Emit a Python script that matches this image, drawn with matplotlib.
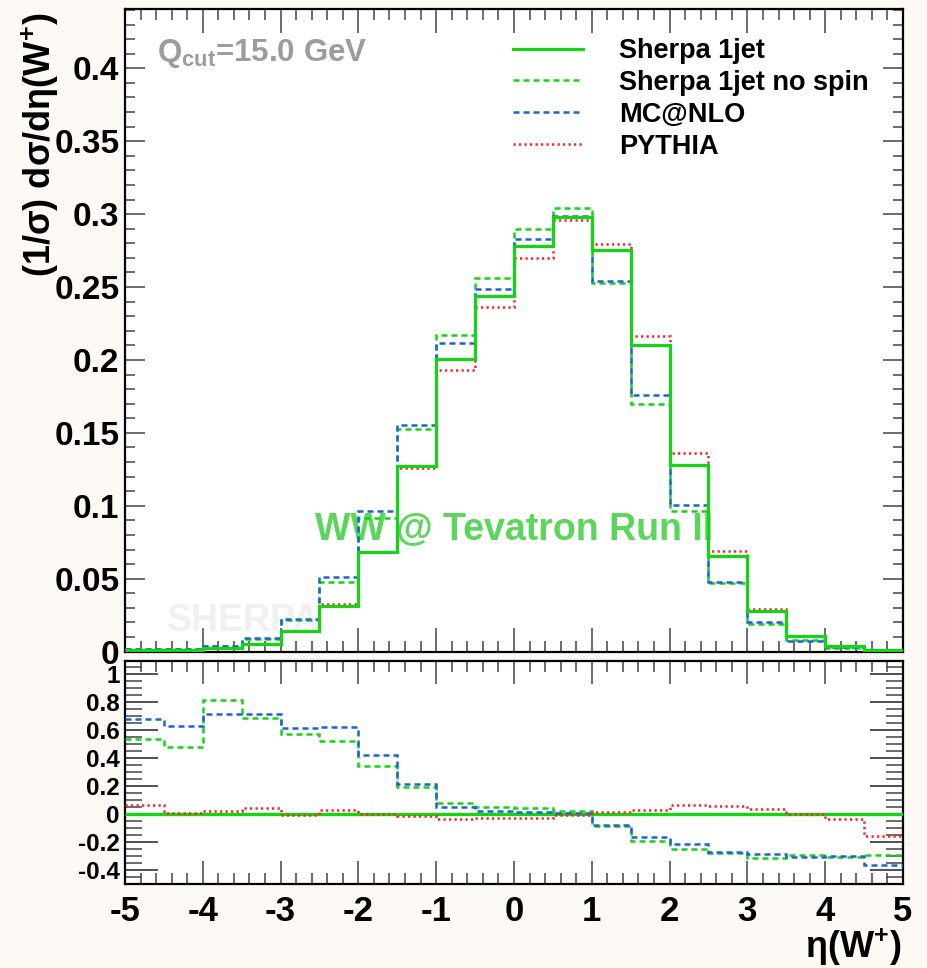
import numpy as np
import matplotlib
matplotlib.use("Agg")
import matplotlib.pyplot as plt
from matplotlib.lines import Line2D
from matplotlib.ticker import MultipleLocator, FuncFormatter

# eta(W+) binning: 20 bins of 0.5 from -5 to 5
edges = np.linspace(-5, 5, 21)

sherpa = [0.0010, 0.0012, 0.0022, 0.0053, 0.0140, 0.0316, 0.0680, 0.1276, 0.2010, 0.2437,
          0.2778, 0.2979, 0.2757, 0.2106, 0.1283, 0.0654, 0.0281, 0.0110, 0.0041, 0.0012]
sherpa_nospin = [0.0015, 0.0018, 0.0040, 0.0090, 0.0220, 0.0480, 0.0917, 0.1525, 0.2170, 0.2565,
                 0.2900, 0.3045, 0.2525, 0.1700, 0.0965, 0.0470, 0.0193, 0.0078, 0.0028, 0.0009]
mcatnlo = [0.0017, 0.0020, 0.0038, 0.0091, 0.0226, 0.0513, 0.0965, 0.1555, 0.2115, 0.2485,
           0.2830, 0.2990, 0.2540, 0.1757, 0.1006, 0.0477, 0.0200, 0.0076, 0.0029, 0.0008]
pythia = [0.0011, 0.0012, 0.0022, 0.0055, 0.0139, 0.0325, 0.0681, 0.1262, 0.1934, 0.2362,
          0.2700, 0.2960, 0.2797, 0.2165, 0.1365, 0.0693, 0.0290, 0.0110, 0.0040, 0.0010]

# ratio panel: (X - Sherpa 1jet) / Sherpa 1jet
ratio_sherpa = [0.0] * 20
ratio_nospin = [0.536, 0.479, 0.818, 0.690, 0.569, 0.519, 0.346, 0.192, 0.078, 0.052,
                0.043, 0.019, -0.085, -0.194, -0.249, -0.282, -0.315, -0.294, -0.306, -0.291]
ratio_mcatnlo = [0.678, 0.633, 0.718, 0.718, 0.616, 0.623, 0.419, 0.218, 0.052, 0.019,
                 0.014, 0.004, -0.080, -0.166, -0.216, -0.270, -0.289, -0.310, -0.300, -0.363]
ratio_pythia = [0.066, 0.009, 0.019, 0.045, -0.007, 0.026, 0.002, -0.012, -0.038, -0.031,
                -0.028, -0.007, 0.014, 0.028, 0.064, 0.059, 0.033, 0.002, -0.033, -0.161]

labels = ["Sherpa 1jet", "Sherpa 1jet no spin", "MC@NLO", "PYTHIA"]

GREEN = "#14d414"
BLUE = "#1f62d6"
RED = "#ff2020"

plt.rcParams["font.family"] = ["Liberation Sans", "DejaVu Sans"]
plt.rcParams["font.weight"] = "bold"
plt.rcParams["mathtext.fontset"] = "custom"
plt.rcParams["mathtext.rm"] = "Liberation Sans:bold"
plt.rcParams["mathtext.it"] = "Liberation Sans:bold"
plt.rcParams["mathtext.bf"] = "Liberation Sans:bold"
plt.rcParams["mathtext.default"] = "rm"

styles = [
    dict(color=GREEN, linewidth=2.3, linestyle="-"),
    dict(color=GREEN, linewidth=1.8, linestyle=(0, (2.4, 1.6))),
    dict(color=BLUE, linewidth=1.8, linestyle=(0, (2.4, 1.6))),
    dict(color=RED, linewidth=1.8, linestyle=(0, (0.9, 1.3))),
]

fig = plt.figure(figsize=(9.27, 9.68), dpi=100, facecolor="#fdf9f5")
ax = fig.add_axes([0.1348, 0.3268, 0.8393, 0.6634])
rax = fig.add_axes([0.1348, 0.0865, 0.8393, 0.2310])

for a in (ax, rax):
    a.set_facecolor("white")
    for sp in a.spines.values():
        sp.set_linewidth(1.6)
    a.set_xlim(-5, 5)

# top panel
series = [sherpa, sherpa_nospin, mcatnlo, pythia]
for i in [1, 2, 3, 0]:
    ax.stairs(series[i], edges, baseline=None, zorder=3 + (i == 0), **styles[i])
ax.set_ylim(0, 0.4403)

ax.text(-4.46, 0.0145, "SHERPA", fontsize=27, color="#f0f0f0", zorder=1)
ax.text(0.0, 0.0773, "WW @ Tevatron Run II", fontsize=27, color="#5ad65a",
        ha="center", va="baseline", zorder=2)
fig.text(157 / 927, 1 - 61 / 968, r"Q$_{\rm cut}$=15.0 GeV", fontsize=22.5,
         color="#9c9c9c", va="baseline")

ax.xaxis.set_major_locator(MultipleLocator(1))
ax.xaxis.set_minor_locator(MultipleLocator(0.2))
ax.yaxis.set_major_locator(MultipleLocator(0.05))
ax.yaxis.set_minor_locator(MultipleLocator(0.01))
ax.yaxis.set_major_formatter(FuncFormatter(lambda v, p: f"{v:g}"))
ax.tick_params(axis="x", which="major", direction="in", top=True, length=17, width=1.1,
               color="#444444", labelbottom=False)
ax.tick_params(axis="x", which="minor", direction="in", top=True, length=8, width=1.1,
               color="#444444")
ax.tick_params(axis="y", which="major", direction="in", right=True, length=14.4, width=1.1,
               color="#444444", labelsize=24, pad=4)
ax.tick_params(axis="y", which="minor", direction="in", right=True, length=7.2, width=1.1,
               color="#444444")

handles = [Line2D([], [], **styles[i]) for i in range(4)]
ax.legend(handles, labels, loc="upper left", frameon=False, fontsize=19.5,
          handlelength=2.6, handletextpad=1.33, labelspacing=0.22, borderpad=0,
          borderaxespad=0, bbox_to_anchor=(513 / 927, 1 - 38 / 968),
          bbox_transform=fig.transFigure)

# ratio panel
ratios = [ratio_sherpa, ratio_nospin, ratio_mcatnlo, ratio_pythia]
for i in [0, 1, 2, 3]:
    st = dict(styles[i])
    if i == 0:
        st["linewidth"] = 2.4
    rax.stairs(ratios[i], edges, baseline=None, zorder=3, **st)
rax.set_ylim(-0.503, 1.097)

rax.xaxis.set_major_locator(MultipleLocator(1))
rax.xaxis.set_minor_locator(MultipleLocator(0.2))
rax.yaxis.set_major_locator(MultipleLocator(0.2))
rax.yaxis.set_minor_locator(MultipleLocator(0.05))
rax.xaxis.set_major_formatter(FuncFormatter(lambda v, p: f"{v:g}"))
rax.yaxis.set_major_formatter(FuncFormatter(lambda v, p: f"{v:g}" if abs(v) > 1e-9 else "0"))
rax.tick_params(axis="x", which="major", direction="in", top=True, length=16.5, width=1.1,
                color="#444444", labelsize=25, pad=8)
rax.tick_params(axis="x", which="minor", direction="in", top=True, length=8, width=1.1,
                color="#444444")
rax.tick_params(axis="y", which="major", direction="in", right=True, length=24, width=1.1,
                color="#222222", labelsize=17.5, pad=4)
rax.tick_params(axis="y", which="minor", direction="in", right=True, length=12, width=1.1,
                color="#444444")

fig.text(902 / 927, 1 - 958 / 968, r"η(W$^{+}$)", fontsize=26, ha="right", va="baseline")
fig.text(40 / 927, 1 - 13 / 968, r"(1/σ) dσ/dη(W$^{+}$)", fontsize=26, rotation=90,
         ha="center", va="top")

fig.savefig("out.png", dpi=100, facecolor=fig.get_facecolor())
